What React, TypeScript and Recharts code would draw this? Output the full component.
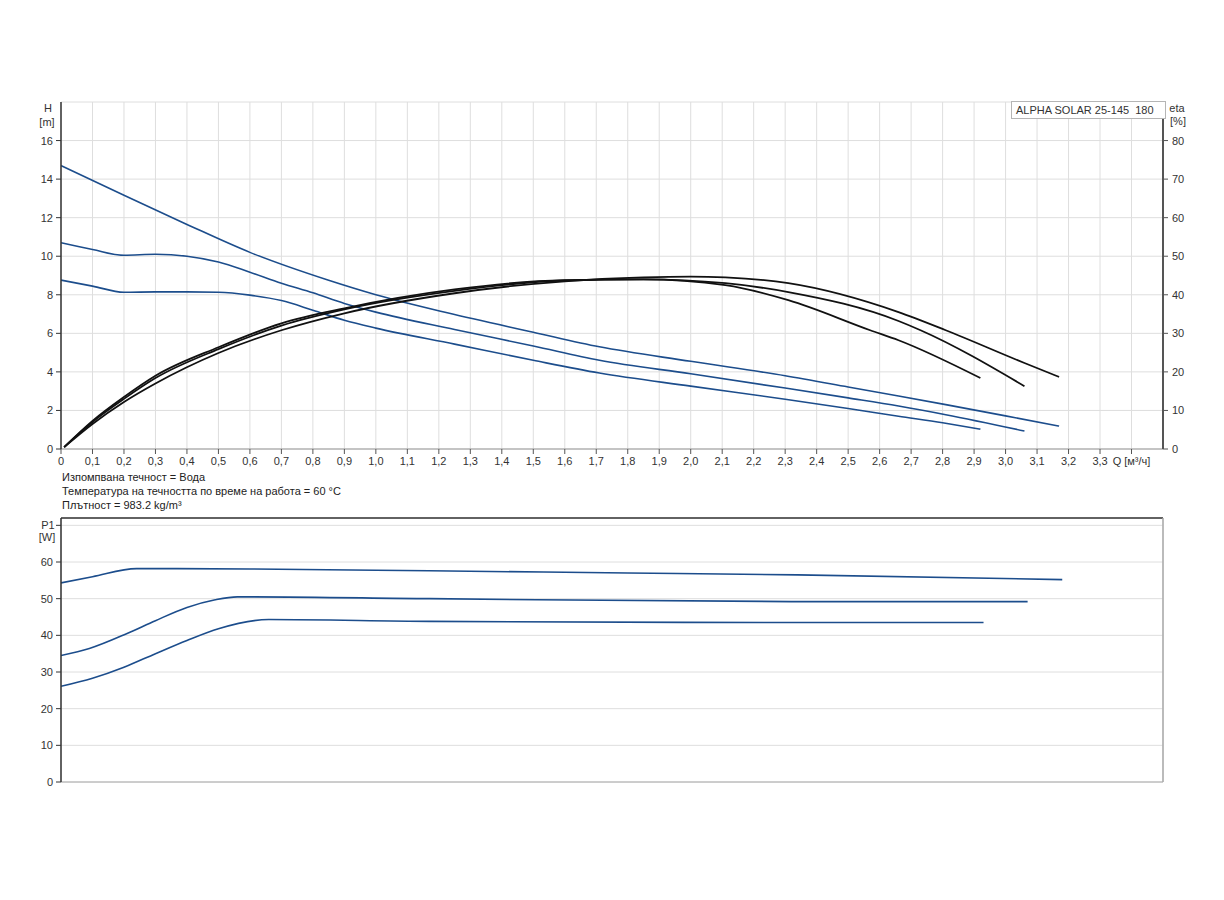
import React from 'react';
import { LineChart, Line, XAxis, YAxis, CartesianGrid, ReferenceLine } from 'recharts';

// flow axis ticks (m³/h); last one carries the axis title
const qTicks = [0, 0.1, 0.2, 0.3, 0.4, 0.5, 0.6, 0.7, 0.8, 0.9, 1.0, 1.1, 1.2, 1.3, 1.4, 1.5, 1.6, 1.7, 1.8, 1.9, 2.0, 2.1, 2.2, 2.3, 2.4, 2.5, 2.6, 2.7, 2.8, 2.9, 3.0, 3.1, 3.2, 3.3, 3.4];
const hTicks = [0, 2, 4, 6, 8, 10, 12, 14, 16, 18];
const etaTicks = [0, 10, 20, 30, 40, 50, 60, 70, 80, 90];
const pTicks = [0, 10, 20, 30, 40, 50, 60, 70];

// head curves H [m]
const qHMax = [0, 0.2, 0.4, 0.6, 0.85, 1.0, 1.23, 1.5, 1.71, 2.0, 2.3, 2.5, 2.66, 2.81, 3.0, 3.17];
const hMax = [14.7, 13.16, 11.65, 10.2, 8.75, 8.0, 7.05, 6.06, 5.3, 4.55, 3.8, 3.22, 2.75, 2.3, 1.72, 1.19];
const qHMid = [0, 0.1, 0.2, 0.3, 0.4, 0.5, 0.6, 0.7, 0.8, 0.9, 1.0, 1.25, 1.5, 1.71, 2.0, 2.3, 2.5, 2.66, 2.81, 3.06];
const hMid = [10.7, 10.35, 10.05, 10.1, 10.0, 9.7, 9.17, 8.6, 8.1, 7.55, 7.1, 6.2, 5.34, 4.6, 3.9, 3.16, 2.65, 2.23, 1.78, 0.93];
const qHMin = [0, 0.1, 0.2, 0.3, 0.4, 0.5, 0.6, 0.7, 0.8, 0.9, 1.0, 1.25, 1.5, 1.71, 2.0, 2.3, 2.5, 2.66, 2.8, 2.92];
const hMin = [8.76, 8.45, 8.13, 8.15, 8.15, 8.13, 7.98, 7.7, 7.2, 6.68, 6.27, 5.44, 4.6, 3.94, 3.26, 2.58, 2.1, 1.7, 1.36, 1.03];

// efficiency curves eta [%]
const qEtaA = [0.01, 0.1, 0.2, 0.3, 0.5, 0.7, 0.9, 1.25, 1.6, 1.85, 2.11, 2.31, 2.57, 2.66, 2.92];
const etaA = [0.5, 7.3, 13.5, 19.0, 26.4, 32.6, 36.5, 41.4, 43.8, 44.0, 42.5, 38.6, 30.8, 28.2, 18.4];
const qEtaB = [0.01, 0.1, 0.2, 0.3, 0.5, 0.7, 0.9, 1.25, 1.6, 1.85, 2.11, 2.31, 2.66, 2.73, 3.06];
const etaB = [0.5, 7.0, 13.0, 18.4, 25.9, 32.0, 36.2, 41.0, 43.7, 44.0, 43.0, 40.7, 33.2, 30.8, 16.3];
const qEtaC = [0.01, 0.1, 0.2, 0.3, 0.5, 0.7, 0.9, 1.25, 1.6, 1.85, 2.0, 2.11, 2.31, 2.66, 2.81, 3.06, 3.17];
const etaC = [0.5, 6.5, 12.2, 17.0, 24.9, 30.8, 35.2, 40.4, 43.5, 44.5, 44.7, 44.5, 43.0, 35.5, 30.8, 22.3, 18.7];

// power curves P1 [W]
const qPMax = [0, 0.1, 0.24, 0.6, 1.17, 1.8, 2.34, 3.18];
const pMax = [54.3, 56.0, 58.2, 58.1, 57.6, 57.0, 56.5, 55.2];
const qPMid = [0, 0.09, 0.21, 0.3, 0.4, 0.49, 0.56, 1.17, 2.34, 3.07];
const pMid = [34.5, 36.4, 40.5, 44.0, 47.6, 49.7, 50.5, 50.0, 49.2, 49.2];
const qPMin = [0, 0.1, 0.2, 0.3, 0.4, 0.5, 0.66, 1.17, 2.34, 2.93];
const pMin = [26.1, 28.3, 31.3, 35.0, 38.6, 41.8, 44.3, 43.8, 43.5, 43.5];

const infoLines = [
  'Изпомпвана течност = Вода',
  'Температура на течността по време на работа = 60 °C',
  'Плътност = 983.2 kg/m³',
];
const pumpName = 'ALPHA SOLAR 25-145  180';

const zip = (qs: number[], vs: number[]) => qs.map((q, i) => ({ q, v: vs[i] }));

const FONT = 'Arial, "Liberation Sans", sans-serif';
const BLUE = '#1c4d8c';
const GRID = '#dedede';

const qLabel = (v: number) => {
  if (v === 0) return '0';
  if (Math.abs(v - 3.4) < 1e-6) return 'Q [м³/ч]';
  return v.toFixed(1).replace('.', ',');
};

const LeftTick = (top: number, name: string, unit: string, nameAtTick: boolean) => (props: any) => {
  const { x, y, payload } = props;
  const txt = { fontSize: 11, fill: '#333', fontFamily: FONT };
  if (payload.value === top) {
    return (
      <g>
        {nameAtTick && <line x1={x - 5} x2={x} y1={y} y2={y} stroke="#333" />}
        <text x={x - 13} y={nameAtTick ? y + 4 : y + 10} textAnchor="middle" {...txt}>{name}</text>
        <text x={x - 14} y={nameAtTick ? y + 16 : y + 24} textAnchor="middle" {...txt}>{unit}</text>
      </g>
    );
  }
  return (
    <g>
      <line x1={x - 5} x2={x} y1={y} y2={y} stroke="#333" />
      <text x={x - 8} y={y + 4} textAnchor="end" {...txt}>{payload.value}</text>
    </g>
  );
};

const EtaTick = (props: any) => {
  const { x, y, payload } = props;
  const txt = { fontSize: 11, fill: '#333', fontFamily: FONT };
  if (payload.value === 90) {
    return (
      <g>
        <text x={x + 14} y={y + 10} textAnchor="middle" {...txt}>eta</text>
        <text x={x + 15} y={y + 23} textAnchor="middle" {...txt}>[%]</text>
      </g>
    );
  }
  return (
    <g>
      <line x1={x} x2={x + 5} y1={y} y2={y} stroke="#555" />
      <text x={x + 9} y={y + 4} textAnchor="start" {...txt}>{payload.value}</text>
    </g>
  );
};

const App: React.FC = () => {
  const line = (key: string, data: { q: number; v: number }[], color: string, width: number, yId: any = 0) => (
    <Line
      key={key}
      yAxisId={yId}
      data={data}
      dataKey="v"
      type="monotone"
      stroke={color}
      strokeWidth={width}
      dot={false}
      activeDot={false}
      isAnimationActive={false}
    />
  );

  return (
    <div style={{ position: 'absolute', left: 0, top: 0, width: 1224, height: 900, background: '#fff', fontFamily: FONT }}>
      <div style={{ position: 'absolute', left: 0, top: 0 }}>
        <LineChart width={1224} height={490} margin={{ top: 102, right: 21, bottom: 11, left: 21 }}>
          <CartesianGrid stroke={GRID} strokeWidth={1} />
          <XAxis
            dataKey="q"
            type="number"
            domain={[0, 3.5]}
            ticks={qTicks}
            interval={0}
            height={30}
            tickSize={5}
            tickMargin={3}
            tickFormatter={qLabel}
            tick={{ fontSize: 11, fill: '#333', fontFamily: FONT }}
            axisLine={{ stroke: '#999' }}
            tickLine={{ stroke: '#555' }}
            allowDataOverflow
          />
          <YAxis
            yAxisId={0}
            type="number"
            domain={[0, 18]}
            ticks={hTicks}
            interval={0}
            width={40}
            tickSize={0}
            tickMargin={0}
            tickLine={false}
            tick={LeftTick(18, 'H', '[m]', false)}
            axisLine={{ stroke: '#333', strokeWidth: 1.5 }}
            allowDataOverflow
          />
          <YAxis
            yAxisId="eta"
            orientation="right"
            type="number"
            domain={[0, 90]}
            ticks={etaTicks}
            interval={0}
            width={40}
            tickSize={0}
            tickMargin={0}
            tickLine={false}
            tick={EtaTick}
            axisLine={{ stroke: '#555', strokeWidth: 2 }}
            allowDataOverflow
          />
          {line('hMax', zip(qHMax, hMax), BLUE, 1.6)}
          {line('hMid', zip(qHMid, hMid), BLUE, 1.6)}
          {line('hMin', zip(qHMin, hMin), BLUE, 1.6)}
          {line('etaA', zip(qEtaA, etaA), '#111', 1.8, 'eta')}
          {line('etaB', zip(qEtaB, etaB), '#111', 1.8, 'eta')}
          {line('etaC', zip(qEtaC, etaC), '#111', 1.8, 'eta')}
        </LineChart>
      </div>

      <div
        style={{
          position: 'absolute',
          left: 1011,
          top: 101,
          width: 149,
          height: 16,
          border: '1px solid #b5b5b5',
          background: '#fff',
          fontSize: 11,
          lineHeight: '16px',
          color: '#333',
          paddingLeft: 4,
          whiteSpace: 'pre',
          boxSizing: 'content-box',
        }}
      >
        {pumpName}
      </div>

      {infoLines.map((t, i) => (
        <div
          key={i}
          style={{ position: 'absolute', left: 62, top: 470 + i * 14, fontSize: 11, lineHeight: '14px', color: '#222' }}
        >
          {t}
        </div>
      ))}

      <div style={{ position: 'absolute', left: 0, top: 500 }}>
        <LineChart width={1224} height={300} margin={{ top: 18, right: 61, bottom: 8, left: 21 }}>
          <CartesianGrid stroke={GRID} strokeWidth={1} />
          <XAxis
            dataKey="q"
            type="number"
            domain={[0, 3.5]}
            ticks={qTicks}
            interval={0}
            height={10}
            tick={false}
            tickLine={false}
            axisLine={{ stroke: '#aaa' }}
            allowDataOverflow
          />
          <YAxis
            type="number"
            domain={[0, 72]}
            ticks={pTicks}
            interval={0}
            width={40}
            tickSize={0}
            tickMargin={0}
            tickLine={false}
            tick={LeftTick(70, 'P1', '[W]', true)}
            axisLine={{ stroke: '#333', strokeWidth: 1.5 }}
            allowDataOverflow
          />
          <ReferenceLine y={72} stroke="#333" strokeWidth={1.5} />
          <ReferenceLine x={3.5} stroke="#aaa" strokeWidth={1.5} />
          {line('pMax', zip(qPMax, pMax), BLUE, 1.6)}
          {line('pMid', zip(qPMid, pMid), BLUE, 1.6)}
          {line('pMin', zip(qPMin, pMin), BLUE, 1.6)}
        </LineChart>
      </div>
    </div>
  );
};

export default App;
